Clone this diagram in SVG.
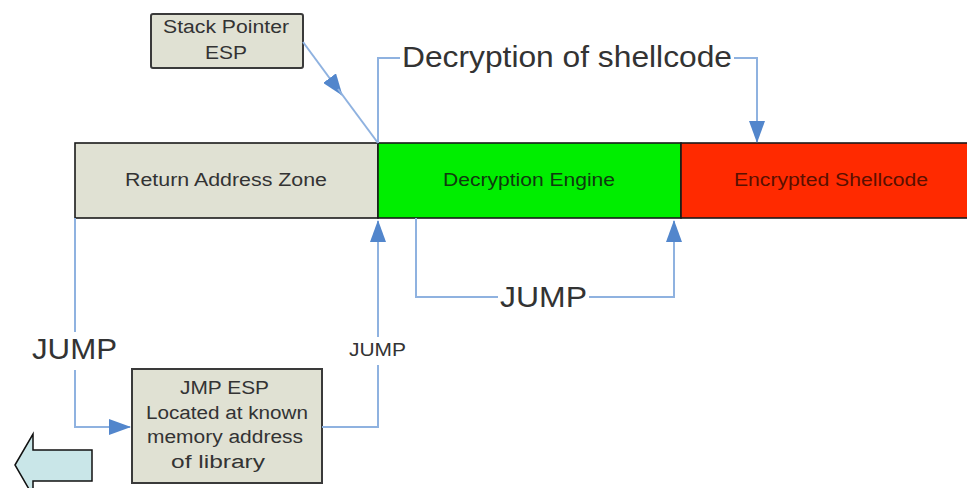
<svg xmlns="http://www.w3.org/2000/svg" width="967" height="488" viewBox="0 0 967 488">
  <style>
    .box { fill: #e0e1d3; stroke: #3a3a3a; stroke-width: 2; }
    .seg { stroke: #1a1a1a; stroke-width: 1.6; }
    .link { fill: none; stroke: #8fb2e0; stroke-width: 2; }
    .lbl { font-family: "Liberation Sans", Arial, sans-serif; fill: #333333; }
    .sm { font-size: 18px; }
    .lg { font-size: 30px; }
  </style>
  <defs>
    <marker id="headBig" markerWidth="22" markerHeight="16" refX="21" refY="8" orient="auto" markerUnits="userSpaceOnUse">
      <path d="M0,0 L22,8 L0,16 Z" fill="#5286cc"/>
    </marker>
  </defs>

  <!-- memory layout bar -->
  <g id="return-address-zone">
    <rect class="box seg" x="75" y="143" width="303" height="75" style="fill:#e0e1d3"/>
    <text class="lbl sm" x="125" y="186" textLength="202" lengthAdjust="spacingAndGlyphs">Return Address Zone</text>
  </g>
  <g id="decryption-engine">
    <rect class="seg" x="378" y="143" width="303" height="75" fill="#00ee00"/>
    <text class="lbl sm" x="443" y="186" textLength="172" lengthAdjust="spacingAndGlyphs" style="fill:#0f3a0f">Decryption Engine</text>
  </g>
  <g id="encrypted-shellcode">
    <rect class="seg" x="681" y="143" width="300" height="75" fill="#ff2a00"/>
    <text class="lbl sm" x="734" y="186" textLength="194" lengthAdjust="spacingAndGlyphs" style="fill:#5a1000">Encrypted Shellcode</text>
  </g>

  <g id="stack-pointer">
    <rect class="box" x="151" y="14" width="152" height="54" rx="2"/>
    <text class="lbl sm" x="163" y="33" textLength="126" lengthAdjust="spacingAndGlyphs">Stack Pointer</text>
    <text class="lbl sm" x="205" y="59" textLength="42" lengthAdjust="spacingAndGlyphs">ESP</text>
  </g>

  <g id="jmp-esp">
    <rect class="box" x="132" y="369" width="190" height="114"/>
    <text class="lbl sm" x="180" y="394" textLength="89" lengthAdjust="spacingAndGlyphs">JMP ESP</text>
    <text class="lbl sm" x="146" y="419" textLength="162" lengthAdjust="spacingAndGlyphs">Located at known</text>
    <text class="lbl sm" x="147" y="443" textLength="156" lengthAdjust="spacingAndGlyphs">memory address</text>
    <text class="lbl sm" x="171" y="468" textLength="94" lengthAdjust="spacingAndGlyphs">of library</text>
  </g>

  <g id="back-arrow">
    <path d="M15,465 L33,434 L33,450 L92,450 L92,481 L33,481 L33,496 Z" fill="#c9e6e8" stroke="#111111" stroke-width="1.5"/>
  </g>

  <g id="connectors">
    <!-- stack pointer to start of decryption engine -->
    <path class="link" d="M303,42 L342,95" marker-end="url(#headBig)"/>
    <path class="link" d="M338,89 L378,143"/>
    <!-- decryption of shellcode -->
    <path class="link" d="M378,143 L378,58 L400,58"/>
    <path class="link" d="M734,58 L757,58 L757,142" marker-end="url(#headBig)"/>
    <text class="lbl lg" x="402" y="67" textLength="330" lengthAdjust="spacingAndGlyphs">Decryption of shellcode</text>
    <!-- engine jump into shellcode -->
    <path class="link" d="M416,218 L416,297 L498,297"/>
    <path class="link" d="M589,297 L674,297 L674,221" marker-end="url(#headBig)"/>
    <text class="lbl lg" x="500" y="307" textLength="87" lengthAdjust="spacingAndGlyphs">JUMP</text>
    <!-- return address to JMP ESP -->
    <path class="link" d="M75,218 L75,332"/>
    <path class="link" d="M75,370 L75,427 L130,427" marker-end="url(#headBig)"/>
    <text class="lbl lg" x="32" y="359" textLength="85" lengthAdjust="spacingAndGlyphs">JUMP</text>
    <!-- JMP ESP back to engine -->
    <path class="link" d="M322,427 L378,427 L378,365"/>
    <path class="link" d="M378,337 L378,221" marker-end="url(#headBig)"/>
    <text class="lbl sm" x="349" y="356" textLength="57" lengthAdjust="spacingAndGlyphs">JUMP</text>
  </g>
</svg>
